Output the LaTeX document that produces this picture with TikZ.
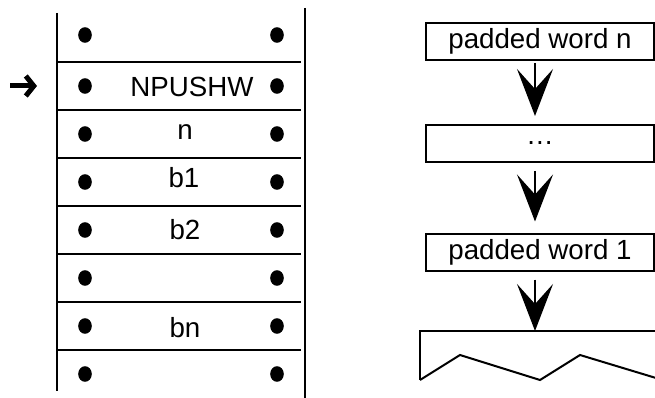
\documentclass[tikz,border=0pt]{standalone}
\usepackage{fontspec}
\setmainfont{Liberation Sans}
\usetikzlibrary{arrows.meta}
\begin{document}
\begin{tikzpicture}[x=1pt,y=-1pt,
  font=\fontsize{27.7}{30}\selectfont,
  cell/.style={anchor=base,inner sep=0pt},
  wordbox/.style={draw,line width=2pt,minimum width=228pt,minimum height=37pt,inner sep=0pt},
  flow/.style={line width=1.5pt,-{Stealth[length=47pt,width=36pt,inset=20pt]}},
  rule/.style={line width=2pt}]
\useasboundingbox (0,0) rectangle (655,398);
% stack walls
\draw[rule] (57,13) -- (57,391);
\draw[rule] (305,8) -- (305,398);
% row separators
\foreach \y in {62,110,158,206,254,302,350}
  \draw[rule] (58,\y) -- (301,\y);
% dots
\foreach \y in {35,86,134,182,230,278,326,374}{
  \fill (85,\y) ellipse [x radius=6.8, y radius=7.8];
  \fill (277,\y) ellipse [x radius=6.8, y radius=7.8];
}
% cell texts
\node[cell] (npushw) at (192,97) {NPUSHW};
\node[cell] (cn) at (185,140) {n};
\node[cell] (cb1) at (184,187) {b1};
\node[cell] (cb2) at (185,239) {b2};
\node[cell] (cbn) at (185,337) {bn};
% pointer arrow
\coordinate (pa) at (10,86);
\coordinate (pb) at (37,86);
\draw[line width=5pt,-{Straight Barb[length=8pt,width=20pt,line width=5pt]}] (pa) -- (pb);
% right side boxes
\node[wordbox] (w1) at (540,41.5) {padded word n};
\node[wordbox] (w2) at (540,143.5) {\dots};
\node[wordbox] (w3) at (540,252) {padded word 1};
% torn shape
\draw[line width=2pt] (420,380) -- (420,331) -- (656,331);
\draw[line width=2pt] (420,380) -- (460,355) -- (540,380) -- (580,355) -- (656,378);
\coordinate (tear) at (535,331);
% flow arrows
\draw[flow,shorten <=2pt,shorten >=8pt] ([xshift=-5pt]w1.south) -- ([xshift=-5pt]w2.north);
\draw[flow,shorten <=8pt,shorten >=11pt] ([xshift=-5pt]w2.south) -- ([xshift=-5pt]w3.north);
\draw[flow,shorten <=8pt] ([xshift=-5pt]w3.south) -- (tear);
\end{tikzpicture}
\end{document}
